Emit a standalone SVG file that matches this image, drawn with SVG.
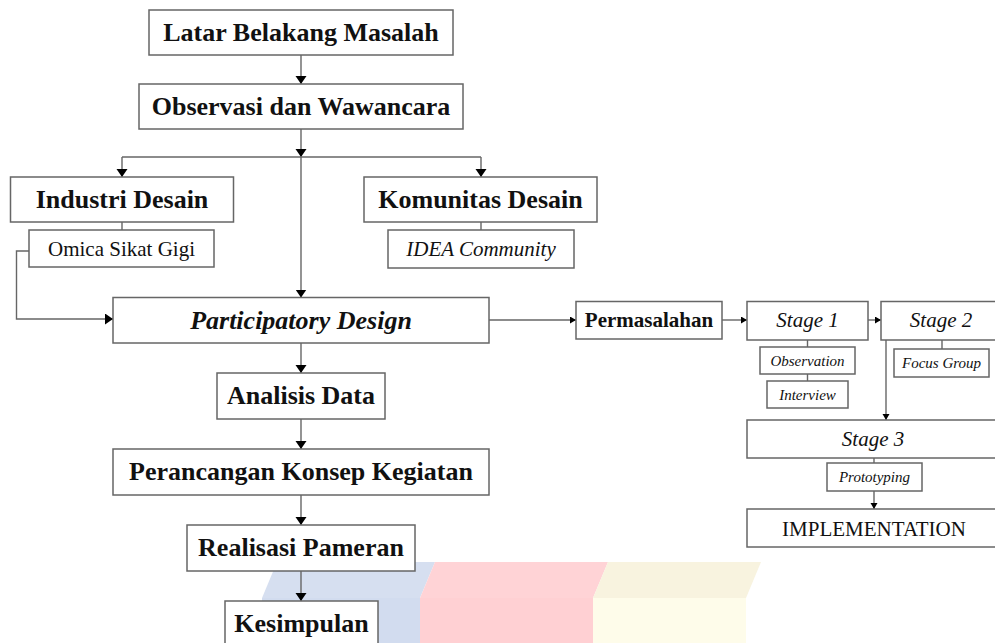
<svg xmlns="http://www.w3.org/2000/svg" width="995" height="643" viewBox="0 0 995 643">
<style>
.box{fill:#fff;stroke:#666;stroke-width:1.5}
.t{font-family:"Liberation Serif","Times New Roman",serif;fill:#111;text-anchor:middle}
.b26{font-size:26px;font-weight:bold}
.bi26{font-size:26px;font-weight:bold;font-style:italic}
.r21{font-size:21px}
.i21{font-size:21px;font-style:italic}
.b21{font-size:21px;font-weight:bold}
.i15{font-size:15px;font-style:italic}
.ln{fill:none;stroke:#666;stroke-width:1.4}
.al{marker-end:url(#big)}
.as{marker-end:url(#small)}
</style>
<defs>
<marker id="big" markerUnits="userSpaceOnUse" markerWidth="9" markerHeight="12" refX="8" refY="5.5" orient="auto">
<path d="M0,0 L8,5.5 L0,11 z" fill="#000"/>
</marker>
<marker id="small" markerUnits="userSpaceOnUse" markerWidth="7" markerHeight="8" refX="6" refY="3.5" orient="auto">
<path d="M0,0 L6,3.5 L0,7 z" fill="#000"/>
</marker>
</defs>
<g id="watermark">
<polygon points="277,562 435,562 420,598 262,598" fill="#d6dff0"/>
<rect x="262" y="598" width="158" height="45" fill="#d2dcef"/>
<polygon points="435,562 608,562 593,598 420,598" fill="#ffd3d6"/>
<rect x="420" y="598" width="173" height="45" fill="#ffd0d3"/>
<polygon points="608,562 761,562 746,598 593,598" fill="#f8f3df"/>
<rect x="593" y="598" width="153" height="45" fill="#fefcea"/>
</g>
<g id="connectors">
<line class="ln al" x1="301" y1="55" x2="301" y2="84"/>
<line class="ln al" x1="301" y1="129" x2="301" y2="157"/>
<line class="ln" x1="122" y1="157" x2="481" y2="157"/>
<line class="ln al" x1="301" y1="157" x2="301" y2="297.5"/>
<line class="ln al" x1="122" y1="157" x2="122" y2="177"/>
<line class="ln al" x1="481" y1="157" x2="481" y2="177"/>
<line class="ln" x1="122" y1="222" x2="122" y2="230"/>
<line class="ln" x1="481" y1="222" x2="481" y2="230"/>
<polyline class="ln al" points="29,251 16.5,251 16.5,319 113,319"/>
<line class="ln al" x1="301" y1="343" x2="301" y2="373"/>
<line class="ln al" x1="301" y1="419" x2="301" y2="449"/>
<line class="ln al" x1="301" y1="495" x2="301" y2="525"/>
<line class="ln al" x1="301" y1="571" x2="301" y2="601"/>
<line class="ln as" x1="489" y1="320" x2="576" y2="320"/>
<line class="ln as" x1="722" y1="320" x2="747" y2="320"/>
<line class="ln as" x1="868" y1="320" x2="881" y2="320"/>
<line class="ln" x1="807.5" y1="340" x2="807.5" y2="347"/>
<line class="ln" x1="807.5" y1="374" x2="807.5" y2="381"/>
<line class="ln" x1="942" y1="340" x2="942" y2="349"/>
<line class="ln as" x1="886" y1="340" x2="886" y2="420"/>
<line class="ln" x1="874" y1="458" x2="874" y2="463"/>
<line class="ln as" x1="874" y1="491" x2="874" y2="509"/>
</g>
<g id="latar"><rect class="box" x="149" y="10" width="304" height="45"/><text class="t b26" x="301" y="41">Latar Belakang Masalah</text></g>
<g id="observasi"><rect class="box" x="139" y="84" width="324" height="45"/><text class="t b26" x="301" y="115">Observasi dan Wawancara</text></g>
<g id="industri"><rect class="box" x="10.5" y="177" width="223" height="45"/><text class="t b26" x="122" y="208">Industri Desain</text></g>
<g id="omica"><rect class="box" x="29" y="230" width="185" height="37"/><text class="t r21" x="121.5" y="255.5">Omica Sikat Gigi</text></g>
<g id="komunitas"><rect class="box" x="364" y="177" width="233" height="45"/><text class="t b26" x="480.5" y="208">Komunitas Desain</text></g>
<g id="idea"><rect class="box" x="388" y="230" width="186" height="38"/><text class="t i21" x="481" y="256">IDEA Community</text></g>
<g id="participatory"><rect class="box" x="113" y="297.5" width="376" height="45.5"/><text class="t bi26" x="301" y="328.5">Participatory Design</text></g>
<g id="analisis"><rect class="box" x="217" y="373" width="168" height="46"/><text class="t b26" x="301" y="404">Analisis Data</text></g>
<g id="perancangan"><rect class="box" x="113" y="449" width="376" height="46"/><text class="t b26" x="301" y="480">Perancangan Konsep Kegiatan</text></g>
<g id="realisasi"><rect class="box" x="187" y="525" width="228" height="46"/><text class="t b26" x="301" y="556">Realisasi Pameran</text></g>
<g id="kesimpulan"><rect class="box" x="225" y="601" width="153" height="46"/><text class="t b26" x="301.5" y="632">Kesimpulan</text></g>
<g id="permasalahan"><rect class="box" x="576" y="301.5" width="146" height="37.5"/><text class="t b21" x="649" y="327">Permasalahan</text></g>
<g id="stage1"><rect class="box" x="747" y="301.5" width="121" height="38.5"/><text class="t i21" x="807.5" y="327">Stage 1</text></g>
<g id="stage2"><rect class="box" x="881" y="301.5" width="130" height="38.5"/><text class="t i21" x="941" y="327">Stage 2</text></g>
<g id="observation"><rect class="box" x="760" y="347" width="95" height="27"/><text class="t i15" x="807.5" y="365.5">Observation</text></g>
<g id="interview"><rect class="box" x="767" y="381" width="81" height="27"/><text class="t i15" x="807.5" y="399.5">Interview</text></g>
<g id="focusgroup"><rect class="box" x="894" y="349" width="95" height="28"/><text class="t i15" x="941.5" y="368">Focus Group</text></g>
<g id="stage3"><rect class="box" x="747" y="420" width="260" height="38"/><text class="t i21" x="873" y="446">Stage 3</text></g>
<g id="prototyping"><rect class="box" x="827" y="463" width="95" height="28"/><text class="t i15" x="874.5" y="482">Prototyping</text></g>
<g id="implementation"><rect class="box" x="747" y="509" width="260" height="38"/><text class="t r21" x="874" y="535.5">IMPLEMENTATION</text></g>
</svg>
